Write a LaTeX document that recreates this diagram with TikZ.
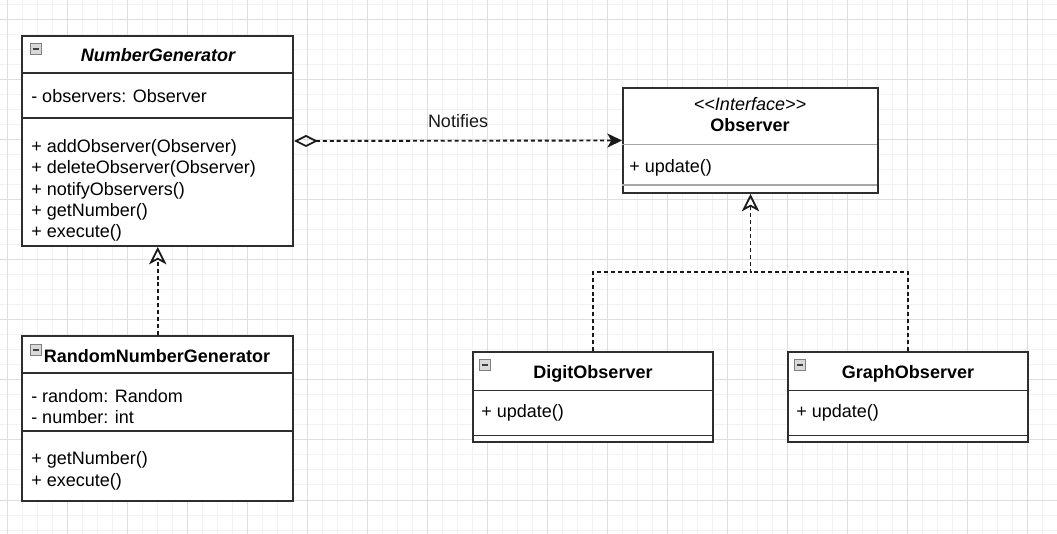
\documentclass[tikz,border=0pt]{standalone}
\usepackage{fontspec}
\setmainfont{Liberation Sans}
\usetikzlibrary{arrows.meta,positioning}

\begin{document}
\begin{tikzpicture}[x=0.75pt,y=-0.75pt,
    every node/.style={font=\fontsize{13.5}{16}\selectfont},
    box/.style={draw=black!82,line width=1.5pt,fill=white,inner sep=0pt},
    sep/.style={draw=black!82,line width=1.2pt},
    lightsep/.style={draw=black!35,line width=1.2pt},
    member/.style={anchor=west,inner sep=0pt,align=left},
    title/.style={font=\fontsize{13.5}{16}\selectfont\bfseries},
    icon/.style={draw=black!50,fill=blue!6!black!15,minimum size=8pt,inner sep=0pt,
      path picture={\draw[black!75,line width=1pt] ([xshift=-2.3pt]path picture bounding box.center) -- ([xshift=2.3pt]path picture bounding box.center);}},
    dep/.style={dash pattern=on 3pt off 2.2pt,line width=1.4pt,black!90},
    realize/.style={dep,-{Stealth[open,length=13pt,width=13pt,inset=3.5pt,line width=1.3pt]}},
    minor/.style={black!5,line width=0.75pt},
    major/.style={black!13,line width=0.75pt}]
  \useasboundingbox (0,0) rectangle (1057,534);
  % background grid
  \foreach \x in {7,22,...,1057} \draw[minor] (\x,0) -- (\x,534);
  \foreach \y in {5,20,...,534} \draw[minor] (0,\y) -- (1057,\y);
  \foreach \x in {7,67,...,1057} \draw[major] (\x,0) -- (\x,534);
  \foreach \y in {20,80,...,534} \draw[major] (0,\y) -- (1057,\y);

  % NumberGenerator
  \node[box,minimum width=202.9pt,minimum height=157.5pt] (ng) at (157.75,141) {};
  \draw[sep] (ng.north west) ++(0,38) -- ++(270.5,0);
  \draw[sep] (ng.north west) ++(0,83) -- ++(270.5,0);
  \node[icon] (ngicon) at (36,49) {};
  \node[font=\fontsize{13.5}{16}\selectfont\bfseries\itshape] (ngname) at (158,55) {NumberGenerator};
  \node[member] (ngattr) at (31,96) {- observers: Observer};
  \node[member] (ngops) at (31,190.5) {+ addObserver(Observer)\\+ deleteObserver(Observer)\\+ notifyObservers()\\+ getNumber()\\+ execute()};

  % RandomNumberGenerator
  \node[box,minimum width=202.9pt,minimum height=123.75pt] (rng) at (157.75,418.5) {};
  \draw[sep] (rng.north west) ++(0,38) -- ++(270.5,0);
  \draw[sep] (rng.north west) ++(0,96) -- ++(270.5,0);
  \node[icon] (rngicon) at (36,350) {};
  \node[title] (rngname) at (157,356) {RandomNumberGenerator};
  \node[member] (rngattr) at (31,406.5) {- random: Random\\- number: int};
  \node[member] (rngops) at (31,471) {+ getNumber()\\+ execute()};

  % Observer
  \node[box,minimum width=191.25pt,minimum height=78.75pt] (obs) at (750.5,140.5) {};
  \draw[lightsep] (obs.north west) ++(0,57.7) -- ++(255,0);
  \draw[lightsep] (obs.north west) ++(0,98) -- ++(255,0);
  \node[font=\fontsize{13.5}{16}\selectfont\itshape] (obsstereo) at (750,104) {<{}<Interface>{}>};
  \node[title] (obsname) at (750,125) {Observer};
  \node[member] (obsop) at (629,168) {+ update()};

  % DigitObserver
  \node[box,minimum width=180pt,minimum height=67.5pt] (dig) at (593,397) {};
  \draw[sep] (dig.north west) ++(0,39.7) -- ++(240,0);
  \draw[sep] (dig.north west) ++(0,84.7) -- ++(240,0);
  \node[icon] (digicon) at (485,365) {};
  \node[title] (digname) at (593,374) {DigitObserver};
  \node[member] (digop) at (481,413) {+ update()};

  % GraphObserver
  \node[box,minimum width=180pt,minimum height=67.5pt] (gra) at (908,397) {};
  \draw[sep] (gra.north west) ++(0,39.7) -- ++(240,0);
  \draw[sep] (gra.north west) ++(0,84.7) -- ++(240,0);
  \node[icon] (graicon) at (800,365) {};
  \node[title] (graname) at (908,374) {GraphObserver};
  \node[member] (graop) at (796,413) {+ update()};

  % connectors
  \draw[dep,{Diamond[open,length=18pt,width=9pt,line width=1.3pt]}-{Stealth[length=11pt,width=10.5pt,inset=3pt]}]
    (ng.east) -- node[above=5.5pt] (notify) {Notifies} (obs.west);
  \draw[realize] (rng.north) -- (ng.south);
  \coordinate (join) at (750.5,272);
  \draw[realize] (dig.north) |- (join) -- (obs.south);
  \draw[dep] (gra.north) |- (join);
\end{tikzpicture}
\end{document}
